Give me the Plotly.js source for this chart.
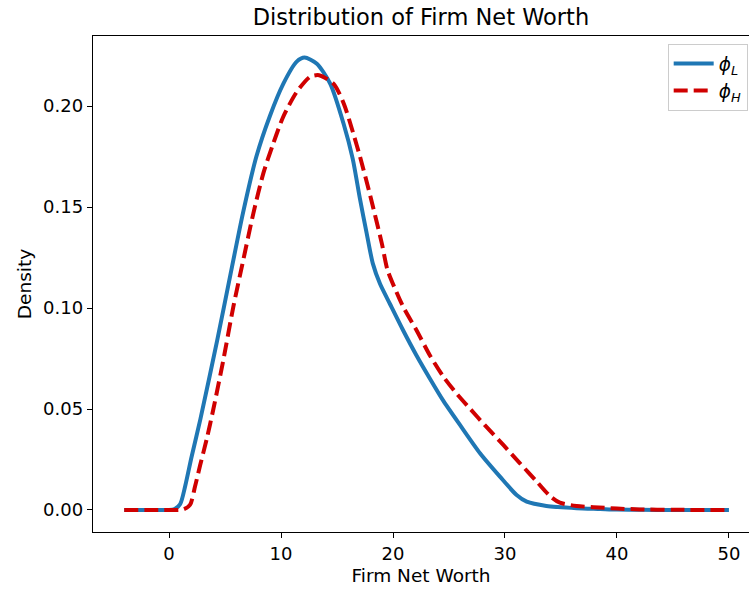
<!DOCTYPE html>
<html>
<head>
<meta charset="utf-8">
<script src="https://cdn.plot.ly/plotly-3.0.1.min.js"></script>
<style>html,body{margin:0;padding:0;overflow:hidden;background:#fff}#chart{width:750px;height:594px}</style>
</head>
<body>
<div id="chart"></div>
<script>
// Firm net worth grid and densities
const xLow = [-4, -2, 0, 0.5, 1.0, 1.45, 2.0, 2.8, 4.3, 5.5, 6.6, 7.8, 9.0, 10.2, 11.4, 12.1, 13.2, 14.4, 15.6, 16.4, 17.05, 17.65, 18.2, 18.84, 19.73, 20.9, 22.1, 23.3, 24.5, 25.98, 27.77, 29.55, 31.04, 31.94, 33.7, 36.4, 38.5, 40, 42, 45, 50];
const phiL = [0, 0, 0, 0.0005, 0.003, 0.012, 0.026, 0.045, 0.084, 0.117, 0.147, 0.175, 0.195, 0.211, 0.222, 0.224, 0.221, 0.211, 0.191, 0.174, 0.154, 0.137, 0.122, 0.112, 0.102, 0.089, 0.0765, 0.065, 0.054, 0.0421, 0.0281, 0.0165, 0.0074, 0.0041, 0.002, 0.0009, 0.0005, 0.0002, 0.0001, 0, 0];

const xHigh = [-4, -2, 0, 1.28, 1.87, 2.32, 2.77, 3.36, 3.96, 4.85, 5.74, 6.63, 7.53, 8.42, 9.31, 10.2, 11.4, 12.6, 13.4, 14.7, 15.6, 16.45, 17.05, 17.95, 19.0, 19.5, 20.3, 20.9, 22.1, 23.3, 24.5, 25.7, 26.9, 28.2, 29.85, 31.34, 32.8, 34.0, 34.9, 36.4, 37.9, 40, 42, 45, 50];
const phiH = [0, 0, 0, 0.0003, 0.0025, 0.0116, 0.022, 0.035, 0.05, 0.0743, 0.1006, 0.1238, 0.1469, 0.1667, 0.1815, 0.1947, 0.207, 0.2145, 0.2153, 0.211, 0.2013, 0.1865, 0.175, 0.156, 0.132, 0.119, 0.108, 0.1007, 0.089, 0.0765, 0.066, 0.0575, 0.050, 0.042, 0.0322, 0.0231, 0.0143, 0.007, 0.0036, 0.002, 0.0014, 0.0007, 0.0003, 0.0001, 0];

const seriesNames = ['<i>ϕ</i><sub><i>L</i></sub>', '<i>ϕ</i><sub><i>H</i></sub>'];
const xTicks = [0, 10, 20, 30, 40, 50];
const yTicks = [0.00, 0.05, 0.10, 0.15, 0.20];

const FONT = 'DejaVu Sans, sans-serif';

const traces = [
  {x: xLow, y: phiL, name: seriesNames[0], type: 'scatter', mode: 'lines',
   line: {color: '#1f77b4', width: 4, shape: 'spline', smoothing: 0.7}},
  {x: xHigh, y: phiH, name: seriesNames[1], type: 'scatter', mode: 'lines',
   line: {color: '#d00000', width: 4, dash: '14px,6px', shape: 'spline', smoothing: 0.7}}
];

const layout = {
  width: 750, height: 594,
  margin: {l: 93, r: 1, t: 36, b: 62},
  paper_bgcolor: '#fff', plot_bgcolor: '#fff',
  font: {family: FONT, color: '#000', size: 18},
  title: {text: 'Distribution of Firm Net Worth', font: {family: FONT, size: 22.5, color: '#000'},
          x: 0.5, xref: 'paper', y: 0.971, yref: 'container', yanchor: 'middle'},
  xaxis: {
    range: [-6.79, 51.79], tickvals: xTicks, ticktext: xTicks.map(String),
    showgrid: false, zeroline: false, showline: true, linecolor: '#000', linewidth: 1.2,
    mirror: true, ticks: 'outside', ticklen: 5, tickcolor: '#000', tickwidth: 1,
    tickfont: {family: FONT, size: 18, color: '#000'},
    title: {text: 'Firm Net Worth', font: {family: FONT, size: 18.5, color: '#000'}, standoff: 6}
  },
  yaxis: {
    range: [-0.0109, 0.2347], tickvals: yTicks, ticktext: yTicks.map(v => v.toFixed(2)),
    showgrid: false, zeroline: false, showline: true, linecolor: '#000', linewidth: 1.2,
    mirror: false, ticks: 'outside', ticklen: 5, tickcolor: '#000', tickwidth: 1,
    tickfont: {family: FONT, size: 18, color: '#000'},
    title: {text: 'Density', font: {family: FONT, size: 18.5, color: '#000'}, standoff: 6}
  },
  showlegend: true,
  legend: {x: 0.998, xanchor: 'right', y: 0.984, yanchor: 'top',
           bgcolor: 'rgba(255,255,255,0.8)', bordercolor: '#cccccc', borderwidth: 1,
           font: {family: FONT, size: 18.5, color: '#000'}, tracegroupgap: 2, itemwidth: 40}
};

Plotly.newPlot('chart', traces, layout, {staticPlot: true, displayModeBar: false});
</script>
</body>
</html>
